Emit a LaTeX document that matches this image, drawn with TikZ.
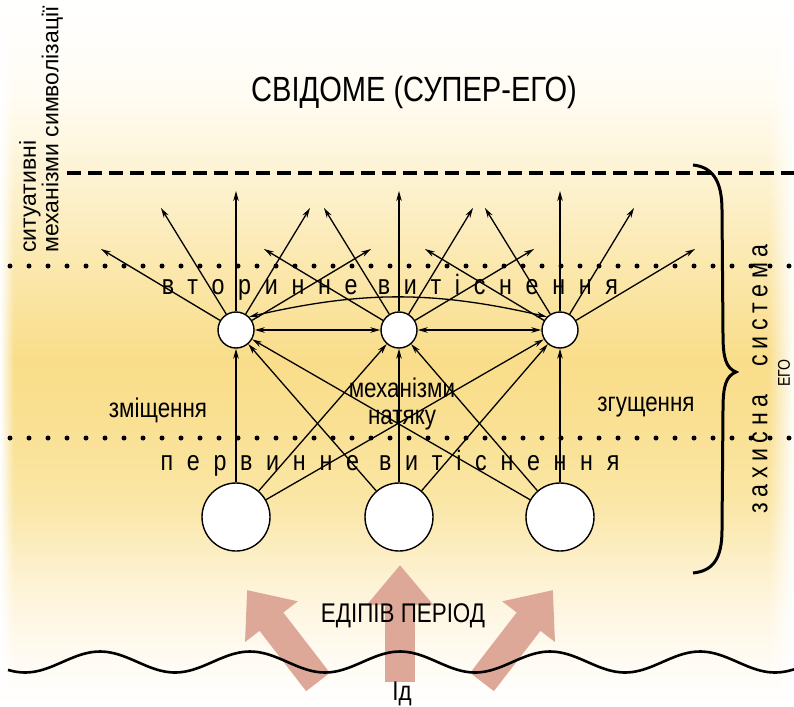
\documentclass[tikz,border=0pt]{standalone}
\usepackage{fontspec}
\setmainfont{Liberation Sans}[FakeStretch=0.83]
\newfontfamily\spacedfont{Liberation Sans}[FakeStretch=0.83,LetterSpace=49]
\newfontfamily\widefont{Liberation Sans}
\usetikzlibrary{arrows.meta,fadings}

\definecolor{pushpink}{RGB}{221,168,152}
\definecolor{bgone}{HTML}{FFFBF3}
\definecolor{bgtwo}{HTML}{FEF6E2}
\definecolor{bgthree}{HTML}{FCEFC8}
\definecolor{bgfour}{HTML}{FAE6A5}
\definecolor{bgfive}{HTML}{F9E092}
\definecolor{bgsix}{HTML}{F9DD8A}
\definecolor{bgseven}{HTML}{FBE8AE}
\definecolor{bgeight}{HTML}{FDF3D3}
\definecolor{bgnine}{HTML}{FFFCF3}
\pgfdeclareverticalshading{bgshade}{100bp}{color(0bp)=(white); color(25bp)=(white);
  color(28.3bp)=(bgone); color(31.8bp)=(bgtwo); color(35.3bp)=(bgthree);
  color(39.6bp)=(bgfour); color(45.3bp)=(bgfive); color(49.5bp)=(bgsix);
  color(56.2bp)=(bgseven); color(62.6bp)=(bgeight); color(68.3bp)=(bgnine);
  color(75bp)=(white); color(100bp)=(white)}

\begin{document}
\begin{tikzpicture}[
    x=1pt,y=-1pt,
    every node/.style={font=\fontsize{27}{27}\selectfont, inner sep=0pt},
    ring/.style={circle, draw=black, fill=white, line width=1.4pt},
    smallring/.style={ring, minimum size=36pt},
    bigring/.style={ring, minimum size=68pt},
    link/.style={line width=1.3pt, -{Stealth[length=10pt,width=5.5pt]}},
    twin/.style={line width=1.3pt, {Stealth[length=10pt,width=5.5pt]}-{Stealth[length=10pt,width=5.5pt]}},
    dotline/.style={line width=5pt, dash pattern=on 0pt off 19pt, line cap=round},
    dashline/.style={line width=4pt, dash pattern=on 14pt off 7pt},
    push/.style={line width=30pt, draw=pushpink, -{Triangle[length=40pt,width=64pt]}},
    wave/.style={line width=2.6pt}
]
    \useasboundingbox (0,0) rectangle (794,706);
    \fill[shading=bgshade] (0,0) rectangle (794,706);
    \fill[white, path fading=east] (0,0) rectangle (14,706);
    \fill[white, path fading=west] (768,0) rectangle (794,706);

    \node[font=\fontsize{35}{35}\selectfont] (title) at (414,92) {СВІДОМЕ (СУПЕР-ЕГО)};
    \node[rotate=90, anchor=north west, align=left, font=\widefont\fontsize{23}{17}\selectfont] (symb) at (19,253) {ситуативні\\механізми символізації};

    \draw[dashline] (67,173) -- (794,173);
    \draw[dotline] (10,266) -- (794,266);
    \draw[dotline] (10,438) -- (794,438);

    \node[font=\spacedfont\fontsize{28}{28}\selectfont] (upper) at (390,287) {вторинне витіснення};
    \node[font=\spacedfont\fontsize{28}{28}\selectfont] (lower) at (390,463) {первинне витіснення};

    \node (shift) at (158,410) {зміщення};
    \node (dense) at (646,407) {згущення};
    \node[align=center] (hint) at (402,404) {механізми\\натяку};

    \foreach \n/\x in {1/236,2/399,3/560} {
        \node[smallring] (s\n) at (\x,330) {};
        \node[bigring] (b\n) at (\x,517) {};
    }

    % fan of arrows above each small ring
    \foreach \n in {1,2,3} {
        \foreach \dx/\dy [count=\k] in {-135/-81,-75/-122,0/-139,74/-122,135/-81} {
            \coordinate (s\n-\k) at ([shift={(\dx,\dy)}]s\n.center);
            \draw[link] (s\n) -- (s\n-\k);
        }
    }
    \foreach \a in {1,2,3} {
        \foreach \b in {1,2,3} {
            \draw[link] (b\a) -- (s\b);
        }
    }
    \draw[twin] (s1) -- (s2);
    \draw[twin] (s2) -- (s3);
    \draw[twin] (s1.45) to[bend left=13] (s3.135);

    \draw[line width=3pt] (693,165) .. controls (712,167) and (722,180) .. (722,210)
        -- (723,335) .. controls (723,358) and (726,368) .. (736,372)
        .. controls (726,376) and (723,386) .. (723,409)
        -- (722,530) .. controls (722,560) and (712,571) .. (693,573);
    \node[rotate=90, font=\fontsize{28}{28}\selectfont\addfontfeature{LetterSpace=20}] (guard) at (760,379) {захисна\hspace{16pt} система};
    \node[rotate=90, font=\fontsize{17}{17}\selectfont] (ego) at (784,373) {ЕГО};

    \draw[push] (400,682) -- (400,565);
    \draw[push] (318,682) -- (247,590);
    \draw[push] (482,682) -- (553,590);
    \draw[wave] plot[domain=8:794, samples=120, smooth] (\x,{662-10.5*cos(2.4*(\x-100))});

    \node (oedip) at (403,616) {ЕДІПІВ ПЕРІОД};
    \node (id) at (402,694) {Ід};
\end{tikzpicture}
\end{document}
